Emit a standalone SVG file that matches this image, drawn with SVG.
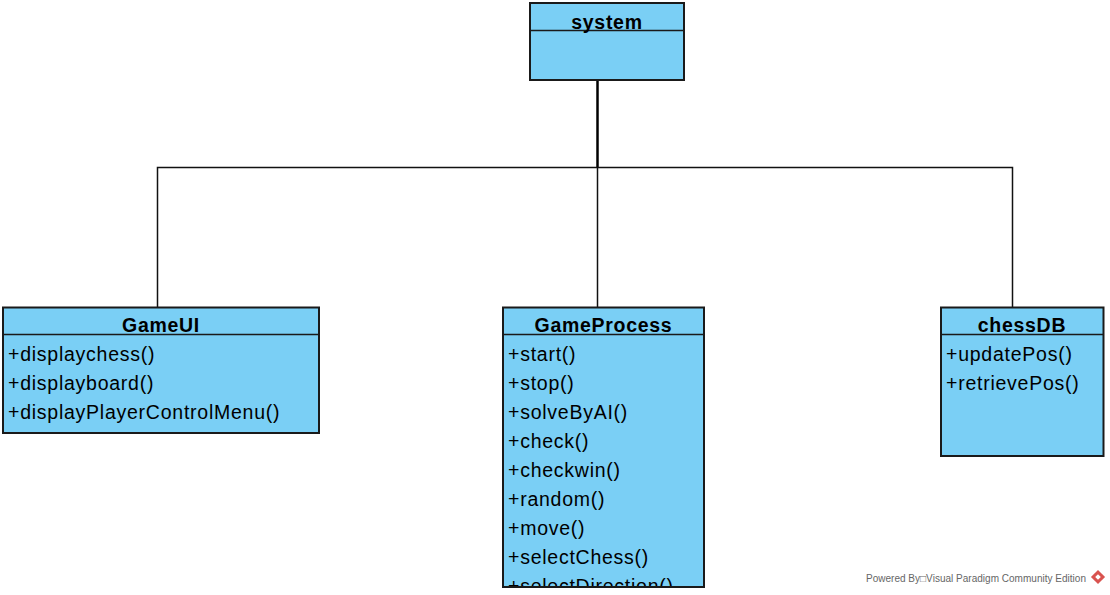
<svg xmlns="http://www.w3.org/2000/svg" width="1110" height="595" viewBox="0 0 1110 595">
<style>
.box{fill:#7ACFF5;stroke:#1a1a1a;stroke-width:2}
.sep{stroke:#1a1a1a;stroke-width:1.5}
.title{font-family:"Liberation Sans",Arial,sans-serif;font-size:19.5px;font-weight:bold;fill:#000;text-anchor:middle;letter-spacing:0.7px}
.mem{font-family:"Liberation Sans",Arial,sans-serif;font-size:19.5px;fill:#000;letter-spacing:0.75px}
.conn{fill:none;stroke:#111;stroke-width:1.5}
.foot{font-family:"Liberation Sans",Arial,sans-serif;font-size:10px;fill:#666}
</style>
<defs>
<clipPath id="gpclip"><rect x="503" y="335" width="201" height="251"/></clipPath>
</defs>
<rect width="1110" height="595" fill="#fff"/>
<g id="connectors">
<line x1="597.5" y1="80" x2="597.5" y2="167.5" stroke="#000" stroke-width="2.5"/>
<polyline class="conn" points="157.5,307 157.5,167.5 1012.5,167.5 1012.5,307"/>
<line class="conn" x1="597.5" y1="167.5" x2="597.5" y2="307"/>
</g>
<g id="system">
<rect class="box" x="530" y="3" width="154" height="77"/>
<line class="sep" x1="530" y1="30.5" x2="684" y2="30.5"/>
<text class="title" x="607" y="29">system</text>
</g>
<g id="GameUI">
<rect class="box" x="3" y="307.5" width="316" height="125.5"/>
<line class="sep" x1="3" y1="334.5" x2="319" y2="334.5"/>
<text class="title" x="161" y="332">GameUI</text>
<text class="mem" x="8" y="361">+displaychess()</text>
<text class="mem" x="8" y="390">+displayboard()</text>
<text class="mem" x="8" y="419">+displayPlayerControlMenu()</text>
</g>
<g id="GameProcess">
<rect class="box" x="503" y="307.5" width="201" height="279.5"/>
<line class="sep" x1="503" y1="334.5" x2="704" y2="334.5"/>
<text class="title" x="603.5" y="332">GameProcess</text>
<g clip-path="url(#gpclip)">
<text class="mem" x="508" y="361">+start()</text>
<text class="mem" x="508" y="390">+stop()</text>
<text class="mem" x="508" y="419">+solveByAI()</text>
<text class="mem" x="508" y="448">+check()</text>
<text class="mem" x="508" y="477">+checkwin()</text>
<text class="mem" x="508" y="506">+random()</text>
<text class="mem" x="508" y="535">+move()</text>
<text class="mem" x="508" y="564">+selectChess()</text>
<text class="mem" x="508" y="593">+selectDirection()</text>
</g>
</g>
<g id="chessDB">
<rect class="box" x="941" y="307.5" width="162.5" height="148.5"/>
<line class="sep" x1="941" y1="334.5" x2="1103.5" y2="334.5"/>
<text class="title" x="1022" y="332">chessDB</text>
<text class="mem" x="946" y="361">+updatePos()</text>
<text class="mem" x="946" y="390">+retrievePos()</text>
</g>
<g id="footer">
<text class="foot" x="866" y="582" textLength="220" lengthAdjust="spacing">Powered By□Visual Paradigm Community Edition</text>
<g transform="translate(1098,577) rotate(45)">
<rect x="-5" y="-5" width="10" height="10" fill="#d9534f"/>
<rect x="-2" y="-2" width="4" height="4" fill="#fff"/>
</g>
</g>
</svg>
